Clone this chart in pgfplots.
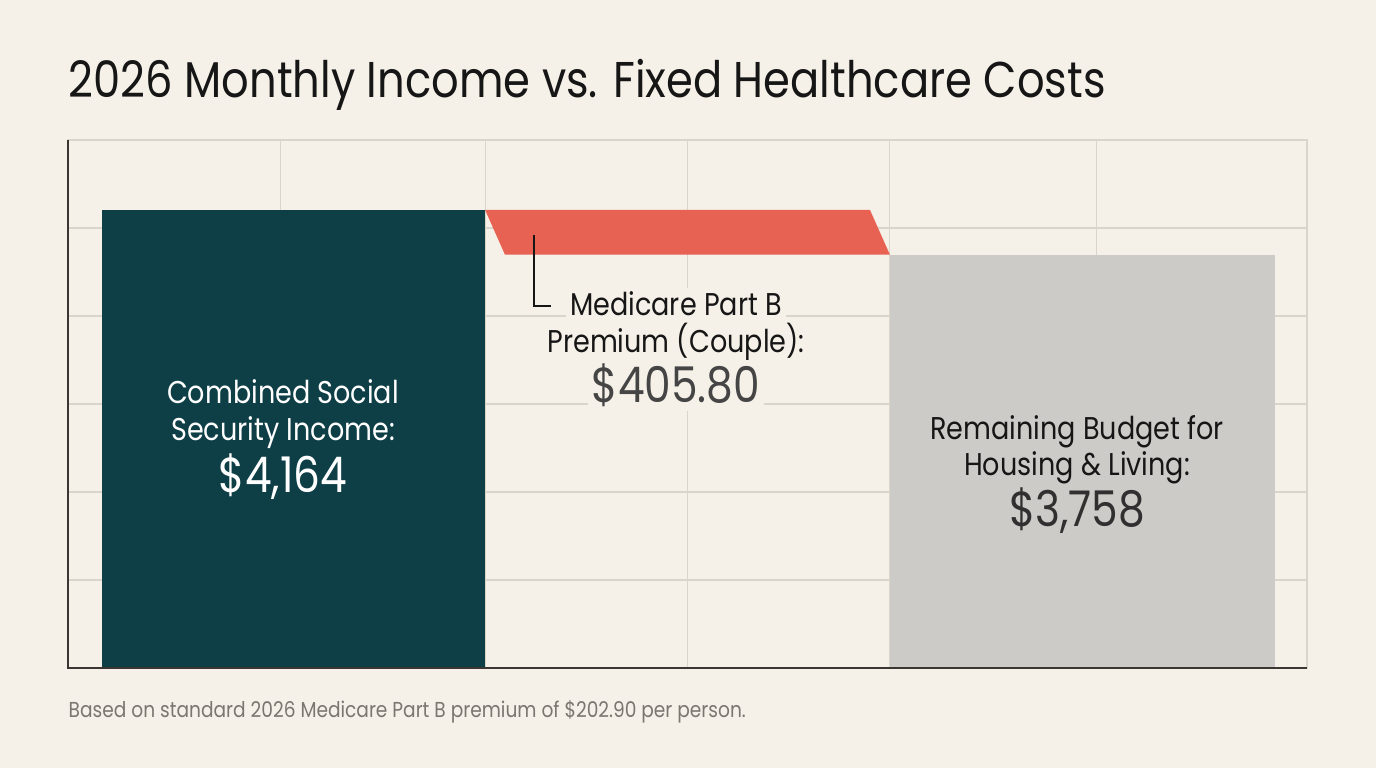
\documentclass[border=0pt]{standalone}
\usepackage{pgfplots}
\pgfplotsset{compat=1.18}
\usepackage{fontspec}
\setmainfont{Poppins}[FakeStretch=0.86]

\definecolor{bgc}{HTML}{F6F1E8}
\definecolor{tealbar}{HTML}{0E3F47}
\definecolor{redbar}{HTML}{E86253}
\definecolor{graybar}{HTML}{CDCBC7}
\definecolor{gridc}{HTML}{DAD4CB}
\definecolor{axisc}{HTML}{3B3631}
\definecolor{inkc}{HTML}{161616}
\definecolor{valc}{HTML}{454545}
\definecolor{footc}{HTML}{7A7670}

% position on a 1376 x 768 grid, origin at the top left
\newcommand{\pxy}[2]{({#1*0.1mm},{(768-#2)*0.1mm})}
\newcommand{\fs}[1]{\fontsize{#1pt}{#1pt}\selectfont}

\begin{document}
\begin{tikzpicture}
\fill[bgc] (0,0) rectangle (137.6mm,76.8mm);

\begin{axis}[
  at={(6.8mm,10mm)}, anchor=south west,
  scale only axis, width=123.9mm, height=52.8mm,
  xmin=0, xmax=6, ymin=0, ymax=4800,
  xtick={1.03,2.02,3.0,3.98,4.98},
  ytick={800,1600,2400,3200,4000},
  xticklabels={}, yticklabels={},
  major tick length=0pt,
  grid=major,
  major grid style={draw=gridc, line width=0.3pt},
  axis line style={draw=gridc, line width=0.3pt},
  clip=false,
]
% income
\addplot[fill=tealbar, draw=none] coordinates {(0.165,4164) (2.02,4164)} \closedcycle;
% premium step from 4164 down to 3758
\addplot[fill=redbar, draw=none] coordinates {(2.02,4164) (3.884,4164) (3.98,3758) (2.116,3758)} -- cycle;
% remaining budget
\addplot[fill=graybar, draw=none] coordinates {(3.98,3758) (5.845,3758)} \closedcycle;
\draw[axisc, line width=0.6pt] (rel axis cs:0,1) -- (rel axis cs:0,0) -- (rel axis cs:1,0);
\end{axis}

% title
\node[anchor=base west, inner sep=0, text=inkc, font=\fs{14.3}] at \pxy{68}{98}
  {2026 Monthly Income vs. Fixed Healthcare Costs};

% income label
\begin{scope}[every node/.style={anchor=base, inner sep=0, text=white}]
\node[font=\fs{8.95}] at \pxy{283}{404} {Combined Social};
\node[font=\fs{8.95}] at \pxy{283}{441} {Security Income:};
\node[font=\fs{14}] at \pxy{283}{493} {\$4,164};
\end{scope}

% premium label
\begin{scope}[every node/.style={anchor=base, inner sep=1.2pt, fill=bgc}]
\node[font=\fs{8.95}, text=inkc] at \pxy{676}{316} {Medicare Part B};
\node[font=\fs{8.95}, text=inkc] at \pxy{676}{353} {Premium (Couple):};
\node[font=\fs{14}, text=valc] at \pxy{676}{403} {\$405.80};
\end{scope}
\draw[inkc, line width=0.35pt] \pxy{534}{235} -- \pxy{534}{306} -- \pxy{551}{306};

% remaining label
\begin{scope}[every node/.style={anchor=base, inner sep=0, text=inkc}]
\node[font=\fs{8.95}] at \pxy{1077}{440} {Remaining Budget for};
\node[font=\fs{8.95}] at \pxy{1077}{476} {Housing \& Living:};
\node[font=\fs{14}, text=valc!70!black] at \pxy{1077}{527} {\$3,758};
\end{scope}

% source note
\node[anchor=base west, inner sep=0, text=footc, font=\fs{6.15}] at \pxy{68}{718}
  {Based on standard 2026 Medicare Part B premium of \$202.90 per person.};
\end{tikzpicture}
\end{document}
